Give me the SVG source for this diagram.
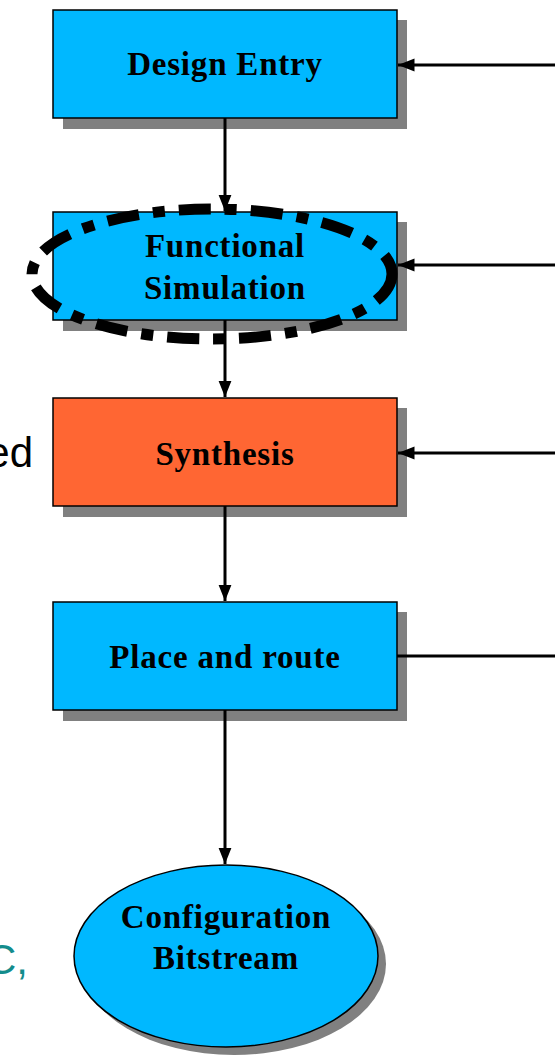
<svg xmlns="http://www.w3.org/2000/svg" width="555" height="1059" viewBox="0 0 555 1059">
<defs>
<style>
.box{stroke:#000;stroke-width:1.5}
.blue{fill:#00B8FF}
.orange{fill:#FF6633}
.shadow{fill:#808080}
.lbl{font-family:"Liberation Serif",serif;font-weight:bold;font-size:33px;letter-spacing:0.8px;fill:#000;text-anchor:middle}
.conn{stroke:#000;stroke-width:3;fill:none}
.side{font-family:"Liberation Sans",sans-serif;font-size:42px}
</style>
<marker id="ah" viewBox="0 0 10 10" refX="10" refY="5" markerWidth="5.5" markerHeight="5.5" orient="auto" markerUnits="strokeWidth">
<path d="M0,1 L10,5 L0,9 z" fill="#000"/>
</marker>
</defs>
<rect width="555" height="1059" fill="#fff"/>
<text class="side" x="33" y="467" text-anchor="end" fill="#000">ed</text>
<text class="side" x="28" y="974" text-anchor="end" fill="#138C8C">C,</text>
<g id="design-entry">
<rect class="shadow" x="63" y="20" width="344" height="109"/>
<rect class="box blue" x="53" y="10" width="344" height="108"/>
<text class="lbl" x="225" y="75">Design Entry</text>
</g>
<g id="functional-simulation">
<rect class="shadow" x="63" y="222" width="344" height="109"/>
<rect class="box blue" x="53" y="212" width="344" height="108"/>
<text class="lbl" x="225" y="257">Functional</text>
<text class="lbl" x="225" y="299">Simulation</text>
</g>
<g id="synthesis">
<rect class="shadow" x="63" y="408" width="344" height="109"/>
<rect class="box orange" x="53" y="398" width="344" height="108"/>
<text class="lbl" x="225" y="465">Synthesis</text>
</g>
<g id="place-and-route">
<rect class="shadow" x="63" y="612" width="344" height="109"/>
<rect class="box blue" x="53" y="602" width="344" height="108"/>
<text class="lbl" x="225" y="668">Place and route</text>
</g>
<g id="configuration-bitstream">
<ellipse class="shadow" cx="234" cy="964" rx="152" ry="91"/>
<ellipse class="box blue" cx="226" cy="956" rx="152" ry="91"/>
<text class="lbl" x="226" y="928">Configuration</text>
<text class="lbl" x="226" y="969">Bitstream</text>
</g>
<g id="connectors">
<line class="conn" x1="225" y1="118" x2="225" y2="211" marker-end="url(#ah)"/>
<line class="conn" x1="225" y1="320" x2="225" y2="397" marker-end="url(#ah)"/>
<line class="conn" x1="225" y1="506" x2="225" y2="601" marker-end="url(#ah)"/>
<line class="conn" x1="225" y1="710" x2="225" y2="864" marker-end="url(#ah)"/>
<line class="conn" x1="555" y1="65" x2="398" y2="65" marker-end="url(#ah)"/>
<line class="conn" x1="555" y1="265" x2="398" y2="265" marker-end="url(#ah)"/>
<line class="conn" x1="555" y1="453" x2="398" y2="453" marker-end="url(#ah)"/>
<line class="conn" x1="555" y1="656" x2="397" y2="656"/>
</g>
<g id="dashed-highlight">
<ellipse cx="212" cy="274" rx="180" ry="65" fill="none" stroke="#000" stroke-width="11" stroke-dasharray="32 14 12 14"/>
</g>
</svg>
